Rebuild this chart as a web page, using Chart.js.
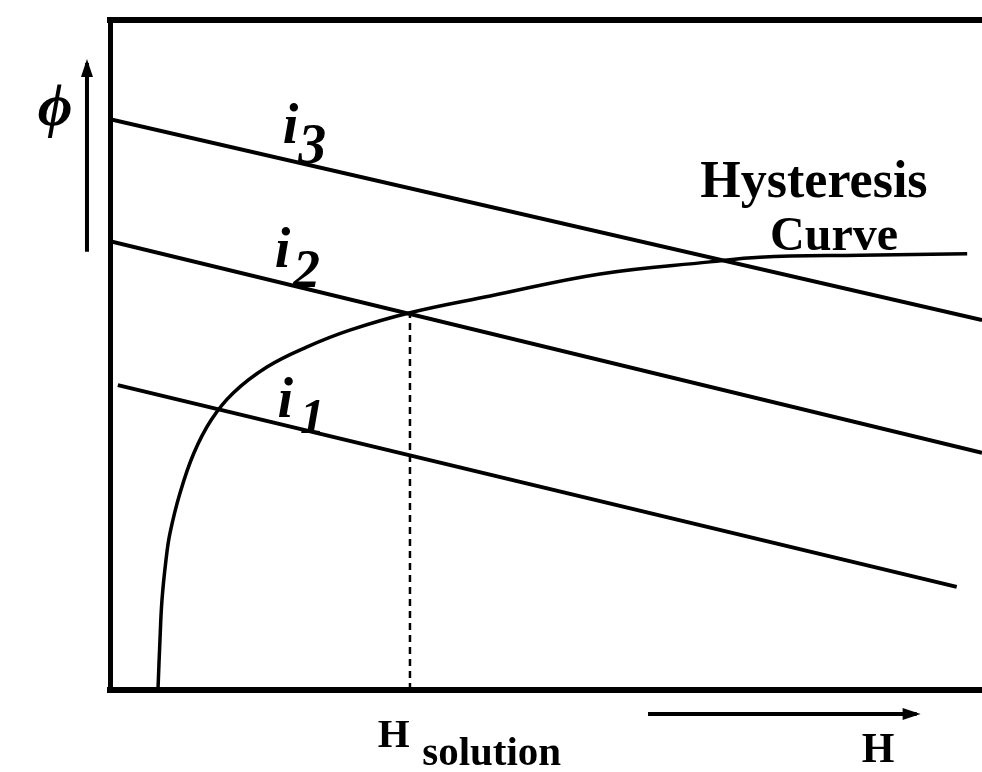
<!DOCTYPE html>
<html lang="en">
<head>
    <meta charset="UTF-8">
    <title>Hysteresis Curve</title>
    <style>
        body { margin: 0; background: #fff; }
        #wrap { width: 982px; height: 772px; }
    </style>
</head>
<body>
    <div id="wrap"><canvas id="hystChart" width="982" height="772"></canvas></div>

    <script src="https://cdn.jsdelivr.net/npm/chart.js"></script>
    <script>
        // H and phi in arbitrary units (0..100 inside the frame)
        var curveH   = [5.5, 5.73, 5.96, 6.42, 6.88, 8.03, 9.6, 11.6, 14.1, 18.0, 22.6, 27.5, 34.4, 43.6, 56.2, 68.8, 74.5, 86.0, 98.3];
        var curvePhi = [0, 7.46, 13.4, 19.4, 23.4, 29.4, 35.3, 40.3, 44.3, 48.2, 51.2, 53.7, 56.3, 58.8, 62.1, 63.9, 64.6, 64.9, 65.1];

        // load lines for the three currents
        var i1H = [0.9, 97.1],  i1Phi = [45.5, 15.4];
        var i2H = [0, 100],     i2Phi = [67.0, 35.4];
        var i3H = [0, 100],     i3Phi = [85.2, 55.2];

        // operating point for i2
        var hSolution = 34.4;
        var phiSolution = 56.3;

        function pts(xs, ys) {
            return xs.map(function (x, k) { return { x: x, y: ys[k] }; });
        }

        // text and arrows placed in axis units
        var serif = '"Liberation Serif"';
        var labels = [
            { text: 'Hysteresis', x: 67.7, y: 73.6, font: 'bold 52px ' + serif },
            { text: 'Curve', x: 75.7, y: 65.7, font: 'bold 48px ' + serif },
            { text: 'i', x: 19.8, y: 81.6, font: 'italic bold 56px ' + serif },
            { text: '3', x: 21.6, y: 78.7, font: 'italic bold 56px ' + serif },
            { text: 'i', x: 18.9, y: 63.1, font: 'italic bold 56px ' + serif },
            { text: '2', x: 21.0, y: 60.1, font: 'italic bold 54px ' + serif },
            { text: 'i', x: 19.2, y: 40.7, font: 'italic bold 56px ' + serif },
            { text: '1', x: 21.8, y: 38.4, font: 'italic bold 50px ' + serif },
            { text: 'ϕ', x: -6.3, y: 86.6, font: 'italic bold 60px ' + serif, center: true },
            { text: 'H', x: 30.7, y: -8.5, font: 'bold 41px ' + serif },
            { text: 'solution', x: 35.8, y: -11.2, font: 'bold 41px ' + serif },
            { text: 'H', x: 86.2, y: -10.7, font: 'bold 42px ' + serif }
        ];
        var arrows = [
            { x1: -2.64, y1: 65.4, x2: -2.64, y2: 93.6 },
            { x1: 61.7, y1: -3.6, x2: 92.5, y2: -3.6 }
        ];

        var annotate = {
            id: 'annotate',
            afterDatasetsDraw: function (chart) {
                var c = chart.ctx, sx = chart.scales.x, sy = chart.scales.y;
                c.save();
                c.fillStyle = '#000';
                c.strokeStyle = '#000';
                labels.forEach(function (l) {
                    c.font = l.font;
                    c.textAlign = l.center ? 'center' : 'left';
                    c.textBaseline = l.center ? 'middle' : 'alphabetic';
                    c.fillText(l.text, sx.getPixelForValue(l.x), sy.getPixelForValue(l.y));
                });
                arrows.forEach(function (a) {
                    var x1 = sx.getPixelForValue(a.x1), y1 = sy.getPixelForValue(a.y1);
                    var x2 = sx.getPixelForValue(a.x2), y2 = sy.getPixelForValue(a.y2);
                    var ang = Math.atan2(y2 - y1, x2 - x1);
                    c.lineWidth = 4;
                    c.beginPath();
                    c.moveTo(x1, y1);
                    c.lineTo(x2, y2);
                    c.stroke();
                    c.beginPath();
                    c.moveTo(x2 + 4 * Math.cos(ang), y2 + 4 * Math.sin(ang));
                    c.lineTo(x2 - 14 * Math.cos(ang) + 6 * Math.sin(ang), y2 - 14 * Math.sin(ang) - 6 * Math.cos(ang));
                    c.lineTo(x2 - 14 * Math.cos(ang) - 6 * Math.sin(ang), y2 - 14 * Math.sin(ang) + 6 * Math.cos(ang));
                    c.closePath();
                    c.fill();
                });
                c.restore();
            }
        };

        var ctx = document.getElementById('hystChart').getContext('2d');
        var hystChart = new Chart(ctx, {
            type: 'scatter',
            data: {
                datasets: [
                    { data: pts(i3H, i3Phi), borderWidth: 4 },
                    { data: pts(i2H, i2Phi), borderWidth: 4 },
                    { data: pts(i1H, i1Phi), borderWidth: 4 },
                    { data: pts(curveH, curvePhi), borderWidth: 3.5, tension: 0.4 },
                    { data: pts([hSolution, hSolution], [0, phiSolution]), borderWidth: 2.5, borderDash: [7, 5] }
                ].map(function (d) {
                    d.showLine = true;
                    d.pointRadius = 0;
                    d.borderColor = '#000';
                    d.backgroundColor = '#000';
                    d.fill = false;
                    return d;
                })
            },
            options: {
                responsive: false,
                animation: false,
                layout: { padding: { top: 20, left: 0, right: 0, bottom: 82 } },
                plugins: { legend: { display: false }, tooltip: { enabled: false } },
                scales: {
                    x: {
                        type: 'linear', min: 0, max: 100, position: 'bottom',
                        grid: { display: false },
                        ticks: { display: false },
                        border: { color: '#000', width: 6 },
                        afterFit: function (s) { s.height = 0; }
                    },
                    xTop: {
                        type: 'linear', min: 0, max: 100, position: 'top',
                        grid: { display: false },
                        ticks: { display: false },
                        border: { color: '#000', width: 6 },
                        afterFit: function (s) { s.height = 0; }
                    },
                    y: {
                        type: 'linear', min: 0, max: 100,
                        grid: { display: false },
                        ticks: { display: false },
                        border: { color: '#000', width: 5 },
                        afterFit: function (s) { s.width = 110; }
                    }
                }
            },
            plugins: [annotate]
        });
    </script>
</body>
</html>
